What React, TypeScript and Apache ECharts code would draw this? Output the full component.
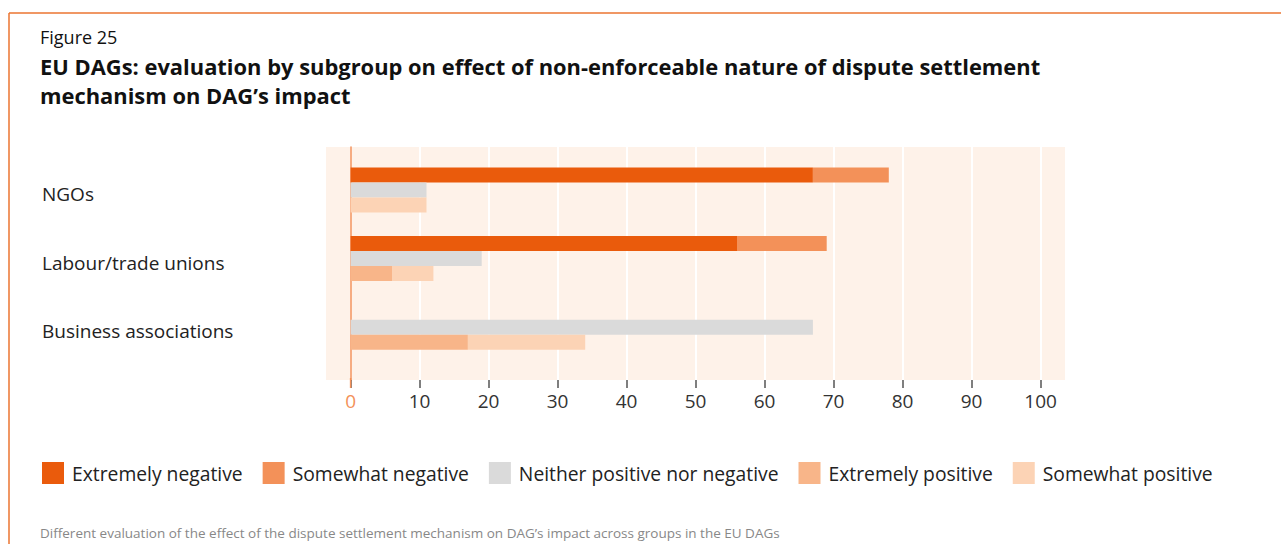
import React, { useEffect, useRef } from "react";
import * as echarts from "echarts";

const categories = ["NGOs", "Labour/trade unions", "Business associations"];
const extremelyNegative = [67, 56, 0];
const somewhatNegative = [11, 13, 0];
const neitherPosNeg = [11, 19, 67];
const extremelyPositive = [0, 6, 17];
const somewhatPositive = [11, 6, 17];
const seriesNames = [
  "Extremely negative",
  "Somewhat negative",
  "Neither positive nor negative",
  "Extremely positive",
  "Somewhat positive",
];
const colors = ["#EA5B0C", "#F39159", "#DADADA", "#F8B589", "#FCD3B5"];

const FONT = "'Open Sans', 'Noto Sans', sans-serif";
const AX_L = 350.6;
const AX_R = 1281 - 1040.6;

export default function App() {
  const ref = useRef<HTMLDivElement>(null);
  useEffect(() => {
    if (!ref.current) return;
    const chart = echarts.init(ref.current, undefined, { renderer: "svg" });
    const bar = (name: string, data: number[], stack: string, color: string) => ({
      name,
      type: "bar",
      stack,
      data,
      xAxisIndex: 0,
      yAxisIndex: 0,
      barWidth: 15,
      barGap: "0%",
      itemStyle: { color },
      z: 3,
    });
    chart.setOption({
      animation: false,
      textStyle: { fontFamily: FONT },
      title: [
        {
          text: "Figure 25",
          left: 35,
          top: 23,
          textStyle: { fontFamily: FONT, fontSize: 18, fontWeight: "normal", color: "#111" },
        },
        {
          text: "EU DAGs: evaluation by subgroup on effect of non-enforceable nature of dispute settlement\nmechanism on DAG\u2019s impact",
          left: 35,
          top: 47,
          textStyle: { fontFamily: FONT, fontSize: 21.9, fontWeight: "bold", color: "#111", lineHeight: 29 },
        },
        {
          text: "Different evaluation of the effect of the dispute settlement mechanism on DAG\u2019s impact across groups in the EU DAGs",
          left: 35,
          top: 521,
          textStyle: { fontFamily: FONT, fontSize: 13.5, fontWeight: "normal", color: "#888" },
        },
      ],
      legend: {
        left: 37,
        top: 457,
        itemWidth: 22,
        itemHeight: 22,
        itemGap: 20,
        icon: "rect",
        textStyle: { fontFamily: FONT, fontSize: 19.3, color: "#222", padding: [0, 0, 0, 3] },
        data: seriesNames,
      },
      graphic: [
        { type: "rect", z: -10, shape: { x: 326, y: 147, width: 739, height: 233 }, style: { fill: "#FEF2E9" } },
        { type: "line", z: 10, shape: { x1: 9, y1: 13, x2: 1281, y2: 13 }, style: { stroke: "#EB7530", lineWidth: 1.5 } },
        { type: "line", z: 10, shape: { x1: 9, y1: 13, x2: 9, y2: 544 }, style: { stroke: "#EB7530", lineWidth: 1.5 } },
        { type: "line", z: 10, shape: { x1: AX_L, y1: 378, x2: AX_L, y2: 388 }, style: { stroke: "#F39159", lineWidth: 1.5 } },
      ],
      grid: [
        { left: AX_L, right: AX_R, top: 155.6, height: 206 },
        { left: AX_L, right: AX_R, top: 147, height: 233 },
      ],
      xAxis: [
        { type: "value", gridIndex: 0, min: 0, max: 100, interval: 10, show: false },
        {
          type: "value",
          gridIndex: 1,
          min: 0,
          max: 100,
          interval: 10,
          axisLine: { show: false },
          axisTick: { show: true, length: 8, lineStyle: { color: "#555", width: 1.5 } },
          splitLine: { show: true, lineStyle: { color: "#FFFFFF", width: 2 } },
          axisLabel: {
            fontFamily: FONT,
            fontSize: 19,
            margin: 11,
            color: (v: any, i: number) => (Number(v) === 0 || i === 0 ? "#F39159" : "#333"),
          },
        },
      ],
      yAxis: [
        {
          type: "category",
          gridIndex: 0,
          data: categories,
          inverse: true,
          axisLine: { show: false },
          axisTick: { show: false },
          splitLine: { show: false },
          axisLabel: {
            align: "left",
            margin: AX_L - 42,
            formatter: "{a|{value}}",
            rich: {
              a: {
                fontFamily: FONT,
                fontSize: 19,
                color: "#222",
                padding: [8, 0, 0, 0],
              },
            },
          },
        },
        {
          type: "value",
          gridIndex: 1,
          min: 0,
          max: 1,
          axisLine: { show: true, lineStyle: { color: "#F39159", width: 1.5 } },
          axisTick: { show: false },
          axisLabel: { show: false },
          splitLine: { show: false },
        },
      ],
      series: [
        bar(seriesNames[0], extremelyNegative, "neg", colors[0]),
        bar(seriesNames[1], somewhatNegative, "neg", colors[1]),
        bar(seriesNames[2], neitherPosNeg, "neither", colors[2]),
        bar(seriesNames[3], extremelyPositive, "pos", colors[3]),
        bar(seriesNames[4], somewhatPositive, "pos", colors[4]),
      ],
    });
    return () => chart.dispose();
  }, []);
  return (
    <div
      ref={ref}
      style={{ position: "fixed", left: 0, top: 0, width: 1281, height: 544, background: "#fff" }}
    />
  );
}
